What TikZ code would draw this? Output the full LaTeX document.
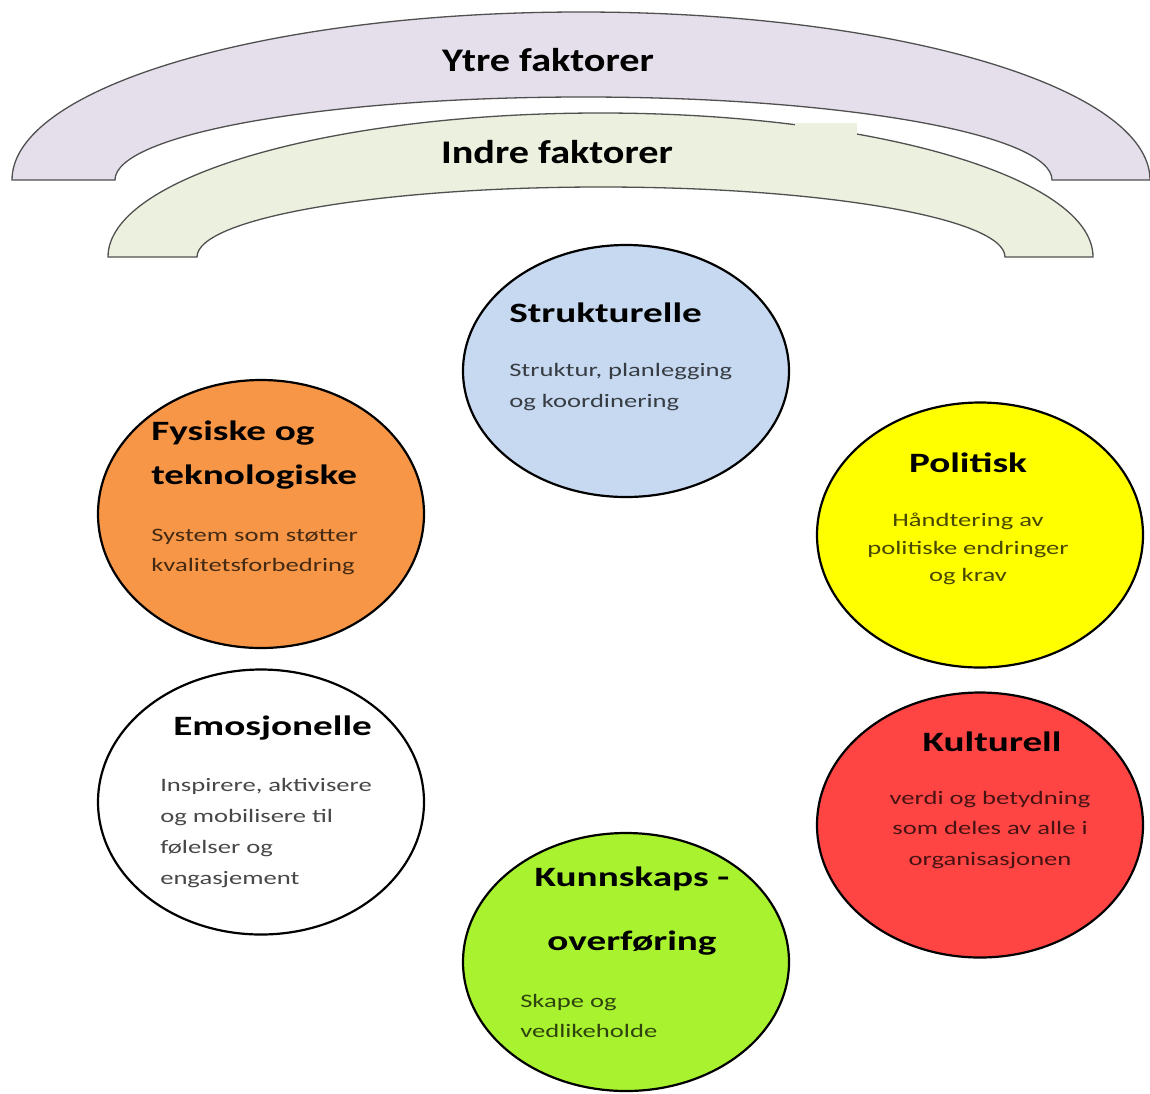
\documentclass[tikz,border=0pt]{standalone}
\usepackage{fontspec}
\setmainfont{Carlito}
\usetikzlibrary{shapes.geometric}
\definecolor{ytrefill}{HTML}{E5DFEC}
\definecolor{indrefill}{HTML}{EBF1DE}
\definecolor{bandline}{HTML}{505050}
\definecolor{blueC}{HTML}{C6D9F1}
\definecolor{orangeC}{HTML}{F79646}
\definecolor{yellowC}{HTML}{FFFF00}
\definecolor{redC}{HTML}{FF4444}
\definecolor{greenC}{HTML}{A8F22F}
\tikzset{
  band/.style={draw=bandline, line width=1.3pt},
  bandtitle/.style={font=\bfseries\fontsize{33}{36}\selectfont, xscale=1.22, inner sep=0pt},
  factor/.style={ellipse, draw=black, line width=2.2pt, minimum width=326pt, minimum height=264pt, inner sep=0pt},
  ftitle/.style={font=\bfseries\fontsize{28}{44}\selectfont, xscale=1.4, inner sep=0pt},
  fdesc/.style={font=\fontsize{19}{31}\selectfont, xscale=1.4, inner sep=0pt, text opacity=0.72}
}
\begin{document}
\begin{tikzpicture}[x=1pt,y=-1pt]
\useasboundingbox (0,0) rectangle (1150,1093);
% outer band
\path[band, fill=ytrefill] (12,180) arc[start angle=180, end angle=0, x radius=569pt, y radius=168pt]
  -- (1052,180) arc[start angle=0, end angle=180, x radius=468.5pt, y radius=83pt] -- cycle;
% inner band
\path[band, fill=indrefill] (108,257) arc[start angle=180, end angle=0, x radius=492.5pt, y radius=144pt]
  -- (1005,257) arc[start angle=0, end angle=180, x radius=404pt, y radius=70pt] -- cycle;
\fill[indrefill] (795,123) rectangle (857,137);
\node[bandtitle] (ytre) at (548,60) {Ytre faktorer};
\node[bandtitle] (indre) at (557,152) {Indre faktorer};

% circles
\node[factor, fill=blueC, minimum height=252pt] (struk) at (626,371) {};
\node[factor, fill=orangeC, minimum height=268pt] (fys) at (261,514) {};
\node[factor, fill=yellowC, minimum height=265pt] (pol) at (980,535) {};
\node[factor, fill=white, minimum height=265pt] (emo) at (261,802) {};
\node[factor, fill=redC, minimum height=265pt] (kul) at (980,825) {};
\node[factor, fill=greenC, minimum height=258pt] (kunn) at (626,962) {};

% texts
\node[ftitle, anchor=west] (strukT) at (509,313) {Strukturelle};
\node[fdesc, anchor=west, align=left] (strukD) at (509,387) {Struktur, planlegging\\og koordinering};

\node[ftitle, anchor=west, align=left] (fysT) at (151,455) {Fysiske og\\teknologiske};
\node[fdesc, anchor=west, align=left, font=\fontsize{19}{30}\selectfont] (fysD) at (151,552) {System som støtter\\kvalitetsforbedring};

\node[ftitle] (polT) at (968,463) {Politisk};
\node[fdesc, align=center, font=\fontsize{19}{27.5}\selectfont] (polD) at (968,549) {Håndtering av\\politiske endringer\\og krav};

\node[ftitle, anchor=west] (emoT) at (173,728) {Emosjonelle};
\node[fdesc, anchor=west, align=left] (emoD) at (160,833) {Inspirere, aktivisere\\og mobilisere til\\følelser og\\engasjement};

\node[ftitle] (kulT) at (992,742) {Kulturell};
\node[fdesc, align=center, font=\fontsize{19}{30.5}\selectfont] (kulD) at (990,830) {verdi og betydning\\som deles av alle i\\organisasjonen};

\node[ftitle, align=center, font=\bfseries\fontsize{28}{64}\selectfont] (kunnT) at (632,911) {Kunnskaps -\\overføring};
\node[fdesc, anchor=west, align=left, font=\fontsize{19}{30}\selectfont] (kunnD) at (520,1016) {Skape og\\vedlikeholde};
\end{tikzpicture}
\end{document}
